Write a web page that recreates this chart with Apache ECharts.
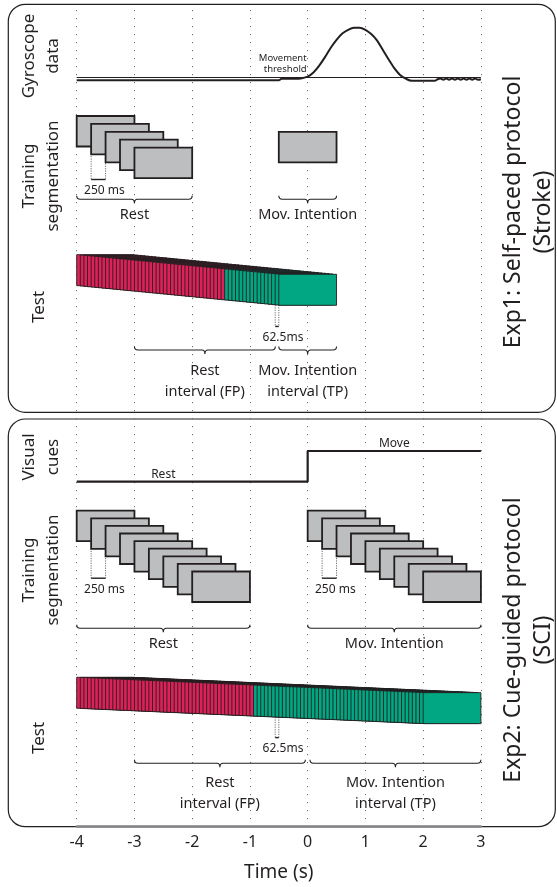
<!DOCTYPE html>
<html>
<head>
<meta charset="utf-8">
<script src="https://cdn.jsdelivr.net/npm/echarts@6/dist/echarts.min.js"></script>
<style>
  html, body { margin: 0; padding: 0; background: #fff; }
  #chart { width: 557px; height: 887px; }
</style>
</head>
<body>
<div id="chart"></div>
<script>
// ---- data (seconds) ----
const winLen = 1; // every segment is 1 s long

// gyroscope trace (Exp1)
const gyroT = [-4, -0.5, -0.45, -0.2, -0.1, 0, 0.1, 0.2, 0.3, 0.4, 0.5, 0.6, 0.7, 0.8, 0.9, 1.0,
  1.1, 1.2, 1.3, 1.4, 1.5, 1.6, 1.7, 1.8, 2.2, 2.25, 2.3, 2.35, 2.4, 2.45, 2.5, 2.55, 2.6, 2.65,
  2.7, 2.75, 2.8, 2.85, 2.9, 2.95, 3];
const gyroV = [0, 0, 0.03, 0.03, 0.04, 0.07, 0.15, 0.28, 0.44, 0.62, 0.77, 0.89, 0.96, 1.0, 1.0, 0.96,
  0.88, 0.76, 0.58, 0.4, 0.23, 0.1, 0.03, -0.01, -0.01, 0.02, 0.035, 0.01, 0.035, 0.01, 0.035, 0.01, 0.035, 0.01,
  0.035, 0.01, 0.035, 0.01, 0.035, 0.01, 0.02];
const threshold = 0.057;

// visual cues (Exp2): 0 = rest, 1 = move
const cueT = [-4, 0, 0, 3];
const cueV = [0, 0, 1, 1];
const cueLabels = [[-2.5, 0, 'Rest'], [1.5, 1, 'Move']];

// training segments (window start times)
const trainRest1 = [-4, -3.75, -3.5, -3.25, -3];
const trainMove1 = [-0.5];
const trainRest2 = [-4, -3.75, -3.5, -3.25, -3, -2.75, -2.5, -2.25, -2];
const trainMove2 = [0, 0.25, 0.5, 0.75, 1, 1.25, 1.5, 1.75, 2];

// test segments (window start times, 62.5 ms apart)
const testStarts1 = [
  -4, -3.9375, -3.875, -3.8125, -3.75, -3.6875, -3.625, -3.5625,
  -3.5, -3.4375, -3.375, -3.3125, -3.25, -3.1875, -3.125, -3.0625,
  -3, -2.9375, -2.875, -2.8125, -2.75, -2.6875, -2.625, -2.5625,
  -2.5, -2.4375, -2.375, -2.3125, -2.25, -2.1875, -2.125, -2.0625,
  -2, -1.9375, -1.875, -1.8125, -1.75, -1.6875, -1.625, -1.5625,
  -1.5, -1.4375, -1.375, -1.3125, -1.25, -1.1875, -1.125, -1.0625,
  -1, -0.9375, -0.875, -0.8125, -0.75, -0.6875, -0.625, -0.5625,
  -0.5];
const testStarts2 = [
  -4, -3.9375, -3.875, -3.8125, -3.75, -3.6875, -3.625, -3.5625,
  -3.5, -3.4375, -3.375, -3.3125, -3.25, -3.1875, -3.125, -3.0625,
  -3, -2.9375, -2.875, -2.8125, -2.75, -2.6875, -2.625, -2.5625,
  -2.5, -2.4375, -2.375, -2.3125, -2.25, -2.1875, -2.125, -2.0625,
  -2, -1.9375, -1.875, -1.8125, -1.75, -1.6875, -1.625, -1.5625,
  -1.5, -1.4375, -1.375, -1.3125, -1.25, -1.1875, -1.125, -1.0625,
  -1, -0.9375, -0.875, -0.8125, -0.75, -0.6875, -0.625, -0.5625,
  -0.5, -0.4375, -0.375, -0.3125, -0.25, -0.1875, -0.125, -0.0625,
  0, 0.0625, 0.125, 0.1875, 0.25, 0.3125, 0.375, 0.4375,
  0.5, 0.5625, 0.625, 0.6875, 0.75, 0.8125, 0.875, 0.9375,
  1, 1.0625, 1.125, 1.1875, 1.25, 1.3125, 1.375, 1.4375,
  1.5, 1.5625, 1.625, 1.6875, 1.75, 1.8125, 1.875, 1.9375,
  2];
const onset1 = -0.5; // movement intention onset, Exp1
const onset2 = 0;    // movement cue, Exp2

// braces [from, to, label]
const braceTrain1 = [[-4, -2, 'Rest'], [-0.5, 0.5, 'Mov. Intention']];
const braceTest1 = [[-3, -0.56, 'Rest\ninterval (FP)'], [-0.5, 0.5, 'Mov. Intention\ninterval (TP)']];
const braceTrain2 = [[-4, -1, 'Rest'], [0, 3, 'Mov. Intention']];
const braceTest2 = [[-3, -0.04, 'Rest\ninterval (FP)'], [0.04, 3, 'Mov. Intention\ninterval (TP)']];

// step markers [from, to, label]
const mark250 = [-3.75, -3.5, '250 ms'];
const mark250b = [0.25, 0.5, '250 ms'];
const mark62 = [-0.5625, -0.5, '62.5ms'];

// ---- look ----
const FONT = '"Noto Sans", sans-serif';
const INK = '#231f20';
const GREY = '#bcbec0';
const RED = '#de2158';
const GREEN = '#00a782';

const rowTrain1 = { top: 116, h: 30.5, dy: 7.9, markLen: 33, braceY: 199.3, textGap: 5 };
const rowTest1 = { top: 254.7, h: 31, dy: 0.35, markLen: 21.5, braceY: 350, textGap: 10 };
const rowTrain2 = { top: 510.7, h: 30.5, dy: 7.6, markLen: 37, braceY: 628.3, textGap: 5 };
const rowTest2 = { top: 677.3, h: 31, dy: 0.16, markLen: 20.5, braceY: 763.3, textGap: 9 };

const chart = echarts.init(document.getElementById('chart'));

function xOf(api, t) { return api.coord([t, 100])[0]; }

function trainSeries(starts, row, offset) {
  return {
    type: 'custom', xAxisIndex: 0, yAxisIndex: 0, silent: true, clip: false,
    data: starts.map((s, i) => [s, i + offset]),
    renderItem(params, api) {
      const s = api.value(0), k = api.value(1);
      const x0 = xOf(api, s), x1 = xOf(api, s + winLen);
      return {
        type: 'rect', z2: params.dataIndex,
        shape: { x: x0, y: row.top + k * row.dy, width: x1 - x0, height: row.h },
        style: { fill: GREY, stroke: INK, lineWidth: 1.8 }
      };
    }
  };
}

function testSeries(starts, row, onset) {
  return {
    type: 'custom', xAxisIndex: 0, yAxisIndex: 0, silent: true, clip: false,
    data: starts.map((s, i) => [s, i, s + winLen > onset ? 1 : 0]),
    renderItem(params, api) {
      const s = api.value(0), k = api.value(1);
      const x0 = xOf(api, s), x1 = xOf(api, s + winLen);
      return {
        type: 'rect', z2: params.dataIndex,
        shape: { x: x0, y: row.top + k * row.dy, width: x1 - x0, height: row.h },
        style: { fill: api.value(2) ? GREEN : RED, stroke: INK, lineWidth: 0.9 }
      };
    }
  };
}

function braceSeries(list, row) {
  return {
    type: 'custom', xAxisIndex: 0, yAxisIndex: 0, silent: true, clip: false,
    data: list.map(b => [b[0], b[1]]),
    renderItem(params, api) {
      const x0 = xOf(api, api.value(0)), x1 = xOf(api, api.value(1));
      const xm = (x0 + x1) / 2, y = row.braceY, e = 3.5;
      const d = `M${x0},${y - e} Q${x0},${y} ${x0 + e},${y} L${xm - 3},${y} Q${xm},${y} ${xm},${y + 4} ` +
        `Q${xm},${y} ${xm + 3},${y} L${x1 - e},${y} Q${x1},${y} ${x1},${y - e}`;
      return {
        type: 'group', children: [
          { type: 'path', shape: { pathData: d }, style: { fill: null, stroke: INK, lineWidth: 1.1 } },
          { type: 'text', style: { text: list[params.dataIndex][2], x: xm, y: y + row.textGap,
            align: 'center', verticalAlign: 'top', font: '14.5px ' + FONT, lineHeight: 21, fill: INK } }
        ]
      };
    }
  };
}

function markSeries(m, row, y0) {
  return {
    type: 'custom', xAxisIndex: 0, yAxisIndex: 0, silent: true, clip: false,
    data: [[m[0], m[1]]],
    renderItem(params, api) {
      const x0 = xOf(api, api.value(0)), x1 = xOf(api, api.value(1));
      const y1 = y0 + row.markLen;
      const dash = { stroke: '#6d6e71', lineWidth: 1, lineDash: [1.2, 1.2] };
      return {
        type: 'group', children: [
          { type: 'line', shape: { x1: x0, y1: y0, x2: x0, y2: y1 }, style: dash },
          { type: 'line', shape: { x1: x1, y1: y0, x2: x1, y2: y1 }, style: dash },
          { type: 'line', shape: { x1: x0, y1: y1, x2: x1, y2: y1 }, style: { stroke: INK, lineWidth: 1.4 } },
          { type: 'text', style: { text: m[2], x: (x0 + x1) / 2 + 6, y: y1 + 11, align: 'center',
            verticalAlign: 'middle', font: '12px ' + FONT, fill: INK } }
        ]
      };
    }
  };
}

const grid = { left: 76.7, right: 76.1 };
const xHidden = { type: 'value', min: -4, max: 3, show: false };

const option = {
  animation: false,
  backgroundColor: '#fff',
  grid: [
    Object.assign({ top: 10, bottom: 60.3 }, grid),
    Object.assign({ top: 27.7, height: 52.6 }, grid),
    Object.assign({ top: 451, height: 30.7 }, grid)
  ],
  xAxis: [
    {
      type: 'value', gridIndex: 0, min: -4, max: 3, interval: 1,
      name: 'Time (s)', nameLocation: 'middle', nameGap: 37,
      nameTextStyle: { fontFamily: FONT, fontSize: 19, color: INK },
      axisLine: { lineStyle: { color: '#808285', width: 2.5 } },
      axisTick: { show: false },
      axisLabel: { margin: 8, fontFamily: FONT, fontSize: 16, color: INK },
      splitLine: { show: true, lineStyle: { color: '#6d6e71', width: 1, type: [1.2, 6.8] } }
    },
    Object.assign({ gridIndex: 1 }, xHidden),
    Object.assign({ gridIndex: 2 }, xHidden)
  ],
  yAxis: [
    { type: 'value', gridIndex: 0, min: 10, max: 826.7, inverse: true, show: false },
    { type: 'value', gridIndex: 1, min: 0, max: 1, show: false },
    { type: 'value', gridIndex: 2, min: 0, max: 1, show: false }
  ],
  graphic: [
    { type: 'rect', shape: { x: 8.3, y: 4.3, width: 547, height: 408, r: 17 },
      style: { fill: null, stroke: INK, lineWidth: 1.2 } },
    { type: 'rect', shape: { x: 8.3, y: 419, width: 547, height: 407.7, r: 17 },
      style: { fill: null, stroke: INK, lineWidth: 1.2 } },
    ...[
      ['Gyroscope\ndata', 41, 56], ['Training\nsegmentation', 41, 176], ['Test', 39, 307],
      ['Visual\ncues', 41, 457], ['Training\nsegmentation', 41, 570], ['Test', 39, 738]
    ].map(([t, x, y]) => ({
      type: 'text', x, y, rotation: Math.PI / 2,
      style: { text: t, align: 'center', verticalAlign: 'middle', lineHeight: 24,
        font: '17px ' + FONT, fill: INK }
    })),
    ...[
      ['Exp1: Self-paced protocol\n(Stroke)', 212], ['Exp2: Cue-guided protocol\n(SCI)', 640]
    ].map(([t, y]) => ({
      type: 'text', x: 528, y, rotation: Math.PI / 2,
      style: { text: t, align: 'center', verticalAlign: 'middle', lineHeight: 30,
        font: '23px ' + FONT, fill: INK }
    }))
  ],
  series: [
    // gyroscope
    {
      type: 'line', xAxisIndex: 1, yAxisIndex: 1, clip: false, silent: true,
      data: gyroT.map((t, i) => [t, gyroV[i]]), smooth: 0.3, symbol: 'none',
      lineStyle: { color: INK, width: 2 },
      markLine: {
        silent: true, symbol: 'none', label: { show: false },
        lineStyle: { color: INK, width: 1, type: 'solid' },
        data: [{ yAxis: threshold }]
      }
    },
    {
      type: 'custom', xAxisIndex: 1, yAxisIndex: 1, silent: true, clip: false,
      data: [[0, threshold]],
      renderItem(params, api) {
        const p = api.coord([api.value(0), api.value(1)]);
        return { type: 'text', style: { text: 'Movement\nthreshold', x: p[0] - 1, y: p[1] - 2,
          align: 'right', verticalAlign: 'bottom', lineHeight: 11.6, font: '9.5px ' + FONT, fill: INK } };
      }
    },
    // visual cues
    {
      type: 'line', xAxisIndex: 2, yAxisIndex: 2, clip: false, silent: true,
      data: cueT.map((t, i) => [t, cueV[i]]), symbol: 'none',
      lineStyle: { color: INK, width: 2.2 }
    },
    {
      type: 'custom', xAxisIndex: 2, yAxisIndex: 2, silent: true, clip: false,
      data: cueLabels.map(c => [c[0], c[1]]),
      renderItem(params, api) {
        const p = api.coord([api.value(0), api.value(1)]);
        return { type: 'text', style: { text: cueLabels[params.dataIndex][2], x: p[0], y: p[1] - 7,
          align: 'center', verticalAlign: 'middle', font: '12px ' + FONT, fill: INK } };
      }
    },
    // Exp1 training
    markSeries(mark250, rowTrain1, rowTrain1.top + rowTrain1.h),
    trainSeries(trainRest1, rowTrain1, 0),
    trainSeries(trainMove1, rowTrain1, (trainRest1.length - 1) / 2),
    braceSeries(braceTrain1, rowTrain1),
    // Exp1 test
    markSeries(mark62, rowTest1, rowTest1.top + testStarts1.indexOf(mark62[0]) * rowTest1.dy + rowTest1.h),
    testSeries(testStarts1, rowTest1, onset1),
    braceSeries(braceTest1, rowTest1),
    // Exp2 training
    markSeries(mark250, rowTrain2, rowTrain2.top + rowTrain2.h),
    markSeries(mark250b, rowTrain2, rowTrain2.top + rowTrain2.h),
    trainSeries(trainRest2, rowTrain2, 0),
    trainSeries(trainMove2, rowTrain2, 0),
    braceSeries(braceTrain2, rowTrain2),
    // Exp2 test
    markSeries(mark62, rowTest2, rowTest2.top + testStarts2.indexOf(mark62[0]) * rowTest2.dy + rowTest2.h),
    testSeries(testStarts2, rowTest2, onset2),
    braceSeries(braceTest2, rowTest2)
  ]
};

chart.setOption(option);
</script>
</body>
</html>
